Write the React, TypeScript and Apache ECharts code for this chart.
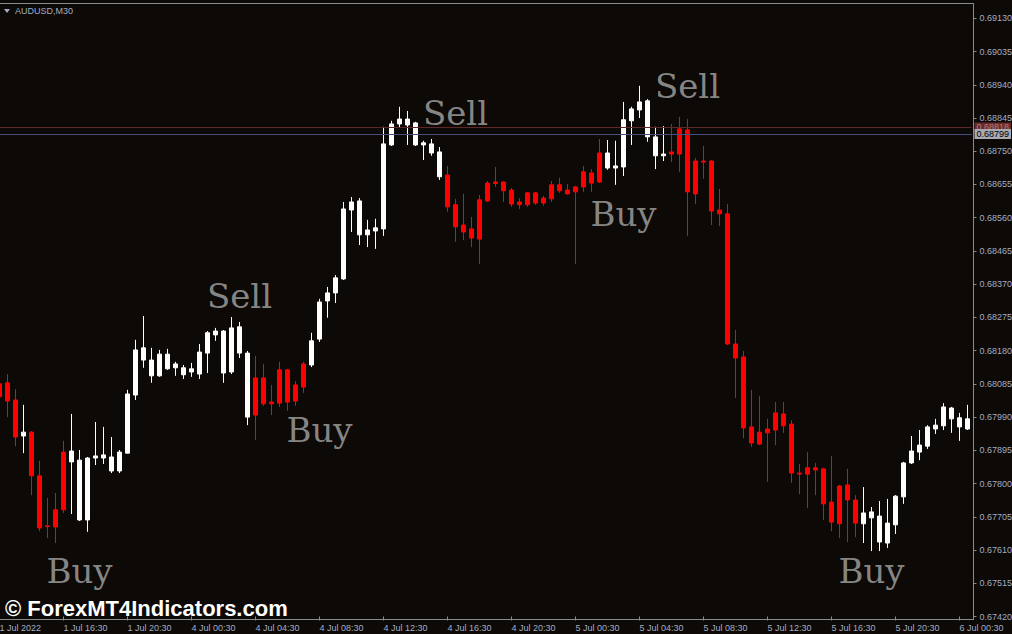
import React, { useEffect, useRef } from 'react';
import * as echarts from 'echarts';

// Candles from 1 Jul 2022 12:30 (M30), one entry per bar
const opens = [
  0.68085, 0.68088, 0.68039, 0.67936, 0.67947, 0.67822, 0.67679, 0.67725, 0.67890, 0.67862,
  0.67696, 0.67696, 0.67873, 0.67873, 0.67836, 0.67836, 0.67887, 0.68053, 0.68153, 0.68108,
  0.68108, 0.68128, 0.68131, 0.68111, 0.68119, 0.68113, 0.68173, 0.68225, 0.68116, 0.68119,
  0.68173, 0.67990, 0.68102, 0.68102, 0.68033, 0.68125, 0.68125, 0.68082, 0.68142, 0.68139,
  0.68213, 0.68322, 0.68345, 0.68385, 0.68582, 0.68511, 0.68511, 0.68522, 0.68528, 0.68768,
  0.68828, 0.68825, 0.68768, 0.68768, 0.68745, 0.68677, 0.68682, 0.68597, 0.68539, 0.68528,
  0.68611, 0.68659, 0.68662, 0.68662, 0.68639, 0.68605, 0.68631, 0.68631, 0.68616, 0.68654,
  0.68654, 0.68639, 0.68648, 0.68691, 0.68688, 0.68745, 0.68702, 0.68702, 0.68705, 0.68837,
  0.68868, 0.68791, 0.68737, 0.68737, 0.68748, 0.68814, 0.68811, 0.68722, 0.68722, 0.68722,
  0.68582, 0.68571, 0.68199, 0.68162, 0.67962, 0.67947, 0.67956, 0.68002, 0.67999, 0.67970,
  0.67830, 0.67845, 0.67845, 0.67842, 0.67747, 0.67793, 0.67796, 0.67753, 0.67685, 0.67702,
  0.67633, 0.67630, 0.67682, 0.67762, 0.67859, 0.67890, 0.67907, 0.67956, 0.67965, 0.67985,
  0.67962, 0.67956,
];
const closes = [
  0.68048, 0.68036, 0.67933, 0.67947, 0.67822, 0.67673, 0.67677, 0.67676, 0.67725, 0.67893,
  0.67867, 0.67873, 0.67879, 0.67882, 0.67876, 0.67890, 0.68056, 0.68182, 0.68188, 0.68153,
  0.68170, 0.68170, 0.68142, 0.68131, 0.68128, 0.68176, 0.68231, 0.68236, 0.68236, 0.68245,
  0.68248, 0.68173, 0.67996, 0.68028, 0.68028, 0.68030, 0.68033, 0.68036, 0.68076, 0.68208,
  0.68319, 0.68345, 0.68388, 0.68585, 0.68605, 0.68608, 0.68525, 0.68531, 0.68771, 0.68828,
  0.68842, 0.68842, 0.68831, 0.68774, 0.68771, 0.68748, 0.68591, 0.68534, 0.68519, 0.68502,
  0.68499, 0.68608, 0.68658, 0.68637, 0.68599, 0.68597, 0.68597, 0.68602, 0.68602, 0.68614,
  0.68637, 0.68628, 0.68634, 0.68648, 0.68659, 0.68662, 0.68745, 0.68708, 0.68840, 0.68871,
  0.68891, 0.68894, 0.68791, 0.68742, 0.68742, 0.68742, 0.68634, 0.68628, 0.68719, 0.68579,
  0.68571, 0.68199, 0.68159, 0.67959, 0.67916, 0.67913, 0.67945, 0.67953, 0.67965, 0.67830,
  0.67827, 0.67827, 0.67839, 0.67742, 0.67690, 0.67685, 0.67753, 0.67687, 0.67716, 0.67719,
  0.67707, 0.67687, 0.67764, 0.67859, 0.67893, 0.67910, 0.67962, 0.67967, 0.68019, 0.68016,
  0.67988, 0.67985,
];
const lows = [
  0.68039, 0.67990, 0.67907, 0.67887, 0.67767, 0.67664, 0.67644, 0.67630, 0.67716, 0.67713,
  0.67693, 0.67662, 0.67853, 0.67856, 0.67830, 0.67830, 0.67886, 0.68039, 0.68131, 0.68088,
  0.68105, 0.68125, 0.68108, 0.68099, 0.68105, 0.68099, 0.68116, 0.68208, 0.68088, 0.68113,
  0.68159, 0.67967, 0.67925, 0.68022, 0.67996, 0.68019, 0.68008, 0.68022, 0.68059, 0.68133,
  0.68205, 0.68274, 0.68316, 0.68382, 0.68519, 0.68482, 0.68476, 0.68471, 0.68508, 0.68765,
  0.68817, 0.68768, 0.68765, 0.68725, 0.68737, 0.68668, 0.68577, 0.68491, 0.68496, 0.68476,
  0.68428, 0.68605, 0.68648, 0.68605, 0.68591, 0.68585, 0.68591, 0.68597, 0.68594, 0.68605,
  0.68631, 0.68626, 0.68428, 0.68634, 0.68634, 0.68659, 0.68697, 0.68654, 0.68679, 0.68768,
  0.68845, 0.68777, 0.68699, 0.68722, 0.68719, 0.68691, 0.68508, 0.68599, 0.68671, 0.68539,
  0.68536, 0.68196, 0.68045, 0.67930, 0.67905, 0.67910, 0.67805, 0.67910, 0.67945, 0.67802,
  0.67770, 0.67730, 0.67767, 0.67696, 0.67664, 0.67644, 0.67633, 0.67647, 0.67630, 0.67607,
  0.67607, 0.67616, 0.67656, 0.67742, 0.67856, 0.67867, 0.67899, 0.67942, 0.67953, 0.67945,
  0.67922, 0.67953,
];
const highs = [
  0.68108, 0.68113, 0.68070, 0.68025, 0.67950, 0.67865, 0.67759, 0.67773, 0.67922, 0.67999,
  0.67896, 0.67876, 0.67976, 0.67962, 0.67933, 0.67896, 0.68068, 0.68211, 0.68279, 0.68188,
  0.68182, 0.68185, 0.68148, 0.68139, 0.68145, 0.68199, 0.68236, 0.68245, 0.68239, 0.68276,
  0.68262, 0.68179, 0.68165, 0.68142, 0.68082, 0.68148, 0.68128, 0.68093, 0.68148, 0.68231,
  0.68328, 0.68362, 0.68396, 0.68605, 0.68619, 0.68616, 0.68554, 0.68557, 0.68820, 0.68837,
  0.68877, 0.68865, 0.68834, 0.68780, 0.68785, 0.68762, 0.68708, 0.68614, 0.68628, 0.68562,
  0.68625, 0.68665, 0.68705, 0.68663, 0.68645, 0.68616, 0.68634, 0.68634, 0.68622, 0.68665,
  0.68674, 0.68656, 0.68651, 0.68708, 0.68699, 0.68785, 0.68782, 0.68780, 0.68891, 0.68877,
  0.68937, 0.68899, 0.68820, 0.68822, 0.68828, 0.68848, 0.68842, 0.68731, 0.68765, 0.68725,
  0.68642, 0.68599, 0.68239, 0.68179, 0.68068, 0.68050, 0.67985, 0.68033, 0.68033, 0.67981,
  0.67856, 0.67890, 0.67859, 0.67845, 0.67879, 0.67796, 0.67842, 0.67767, 0.67790, 0.67733,
  0.67750, 0.67756, 0.67767, 0.67862, 0.67936, 0.67953, 0.67967, 0.67985, 0.68030, 0.68019,
  0.68002, 0.68025,
];

const yTickLabels = [
  '0.67420', '0.67515', '0.67610', '0.67705', '0.67800', '0.67895', '0.67990', '0.68085',
  '0.68180', '0.68275', '0.68370', '0.68465', '0.68560', '0.68655', '0.68750', '0.68845',
  '0.68940', '0.69035', '0.69130',
];
const xTickLabels = [
  '1 Jul 2022', '1 Jul 16:30', '1 Jul 20:30', '4 Jul 00:30', '4 Jul 04:30', '4 Jul 08:30',
  '4 Jul 12:30', '4 Jul 16:30', '4 Jul 20:30', '5 Jul 00:30', '5 Jul 04:30', '5 Jul 08:30',
  '5 Jul 12:30', '5 Jul 16:30', '5 Jul 20:30', '6 Jul 00:30',
];
const barsPerTick = 8;

const signalLabels = ['Buy', 'Sell', 'Buy', 'Sell', 'Buy', 'Sell', 'Buy'];
const signalBar = [10.2, 29.9, 40.2, 56.9, 77.9, 86, 109.4];
const signalPrice = [0.6755, 0.68336, 0.67952, 0.6886, 0.68571, 0.68937, 0.6755];

const askLine = 0.68818;
const bidLine = 0.68799;

const BG = '#0c0907';
const AXIS = '#8a8a8a';
const LABEL = '#a4adc2';
const AXIS_FONT = 'Liberation Sans, Arial, sans-serif';

function makeCategories(n: number): string[] {
  const out: string[] = [];
  const months = ['Jan', 'Feb', 'Mar', 'Apr', 'May', 'Jun', 'Jul', 'Aug', 'Sep', 'Oct', 'Nov', 'Dec'];
  let t = Date.UTC(2022, 6, 1, 12, 30);
  for (let i = 0; i < n; i++) {
    const d = new Date(t);
    const hh = String(d.getUTCHours()).padStart(2, '0');
    const mm = String(d.getUTCMinutes()).padStart(2, '0');
    out.push(`${d.getUTCDate()} ${months[d.getUTCMonth()]} ${hh}:${mm}`);
    t += 30 * 60000;
    const nd = new Date(t);
    if (nd.getUTCDay() === 6) t = Date.UTC(2022, nd.getUTCMonth(), nd.getUTCDate() + 2, 0, 0);
  }
  return out;
}

export default function App() {
  const ref = useRef<HTMLDivElement>(null);
  useEffect(() => {
    if (!ref.current) return;
    const chart = echarts.init(ref.current, undefined, { renderer: 'svg' });
    const categories = makeCategories(opens.length);
    const candles = opens.map((o, i) => [o, closes[i], lows[i], highs[i]]);
    const yMin = parseFloat(yTickLabels[0]);
    const yMax = parseFloat(yTickLabels[yTickLabels.length - 1]);
    const lineLabel = {
      show: true,
      position: 'end',
      distance: 3,
      padding: [1, 2, 0, 2],
      fontSize: 9,
      fontFamily: AXIS_FONT,
    };

    chart.setOption({
      animation: false,
      backgroundColor: BG,
      grid: {
        left: -4.5,
        right: 40.5,
        top: 18.3,
        bottom: 17.5,
        containLabel: false,
        outerBoundsMode: 'none',
      },
      xAxis: {
        type: 'category',
        data: categories,
        boundaryGap: true,
        offset: 3,
        axisLine: { show: false },
        axisTick: {
          show: true,
          alignWithLabel: true,
          interval: (idx: number) => idx % barsPerTick === 0,
          length: 4,
          lineStyle: { color: AXIS, width: 1 },
        },
        axisLabel: {
          interval: (idx: number) => idx % barsPerTick === 0,
          formatter: (_v: string, idx: number) => xTickLabels[idx / barsPerTick] ?? '',
          align: 'left',
          margin: 4,
          color: LABEL,
          fontSize: 9,
          hideOverlap: false,
          fontFamily: AXIS_FONT,
        },
        splitLine: { show: false },
      },
      yAxis: [
        {
          type: 'value',
          min: yMin,
          max: yMax,
          show: false,
          splitLine: { show: false },
        },
        {
          type: 'value',
          position: 'right',
          min: 0,
          max: yTickLabels.length - 1,
          interval: 1,
          offset: 2,
          axisLine: { show: false },
          axisTick: { show: true, inside: false, length: 3, lineStyle: { color: AXIS } },
          axisLabel: {
            formatter: (v: number) => yTickLabels[v] ?? '',
            margin: 6,
            color: LABEL,
            fontSize: 9,
            fontFamily: AXIS_FONT,
          },
          splitLine: { show: false },
        },
      ],
      series: [
        {
          type: 'candlestick',
          xAxisIndex: 0,
          yAxisIndex: 0,
          data: candles,
          barWidth: 4,
          itemStyle: {
            color: '#ffffff',
            color0: '#ff0000',
            borderColor: '#ffffff',
            borderColor0: '#ff0000',
            borderWidth: 1,
          },
          markLine: {
            symbol: 'none',
            silent: true,
            animation: false,
            precision: 5,
            data: [
              {
                yAxis: askLine,
                lineStyle: { color: '#5e2828', type: 'solid', width: 1 },
                label: {
                  ...lineLabel,
                  formatter: () => askLine.toFixed(5),
                  backgroundColor: '#6a2a2a',
                  color: '#b08080',
                },
              },
              {
                yAxis: bidLine,
                lineStyle: { color: '#46507e', type: 'solid', width: 1 },
                label: {
                  ...lineLabel,
                  formatter: () => bidLine.toFixed(5),
                  backgroundColor: '#a9a9b1',
                  color: '#000000',
                },
              },
            ],
          },
        },
        {
          type: 'scatter',
          xAxisIndex: 0,
          yAxisIndex: 0,
          silent: true,
          symbolSize: 0,
          data: signalBar.map((b, i) => [b, signalPrice[i]]),
          label: {
            show: true,
            position: 'inside',
            formatter: (p: any) => signalLabels[p.dataIndex],
            color: '#a8a8a8',
            fontSize: 34,
            fontFamily: 'DejaVu Serif, serif',
          },
        },
      ],
      graphic: [
        { type: 'line', silent: true, shape: { x1: 0, y1: 3.5, x2: 974, y2: 3.5 }, style: { stroke: AXIS, lineWidth: 1 } },
        { type: 'line', silent: true, shape: { x1: 973.5, y1: 3, x2: 973.5, y2: 620 }, style: { stroke: AXIS, lineWidth: 1 } },
        { type: 'line', silent: true, shape: { x1: 0, y1: 619.5, x2: 974, y2: 619.5 }, style: { stroke: AXIS, lineWidth: 1 } },
        { type: 'polygon', silent: true, shape: { points: [[4, 9], [10, 9], [7, 13]] }, style: { fill: LABEL } },
        {
          type: 'text', silent: true, x: 15, y: 11,
          style: { text: 'AUDUSD,M30', fill: LABEL, font: '9px "Liberation Sans", Arial, sans-serif', verticalAlign: 'middle' },
        },
        {
          type: 'text', silent: true, x: 5, y: 608,
          style: { text: '© ForexMT4Indicators.com', fill: '#ffffff', font: 'bold 22px "Liberation Sans", Arial, sans-serif', verticalAlign: 'middle' },
        },
      ],
    });
    return () => chart.dispose();
  }, []);
  return <div ref={ref} style={{ position: 'fixed', left: 0, top: 0, width: 1012, height: 634, background: BG }} />;
}
